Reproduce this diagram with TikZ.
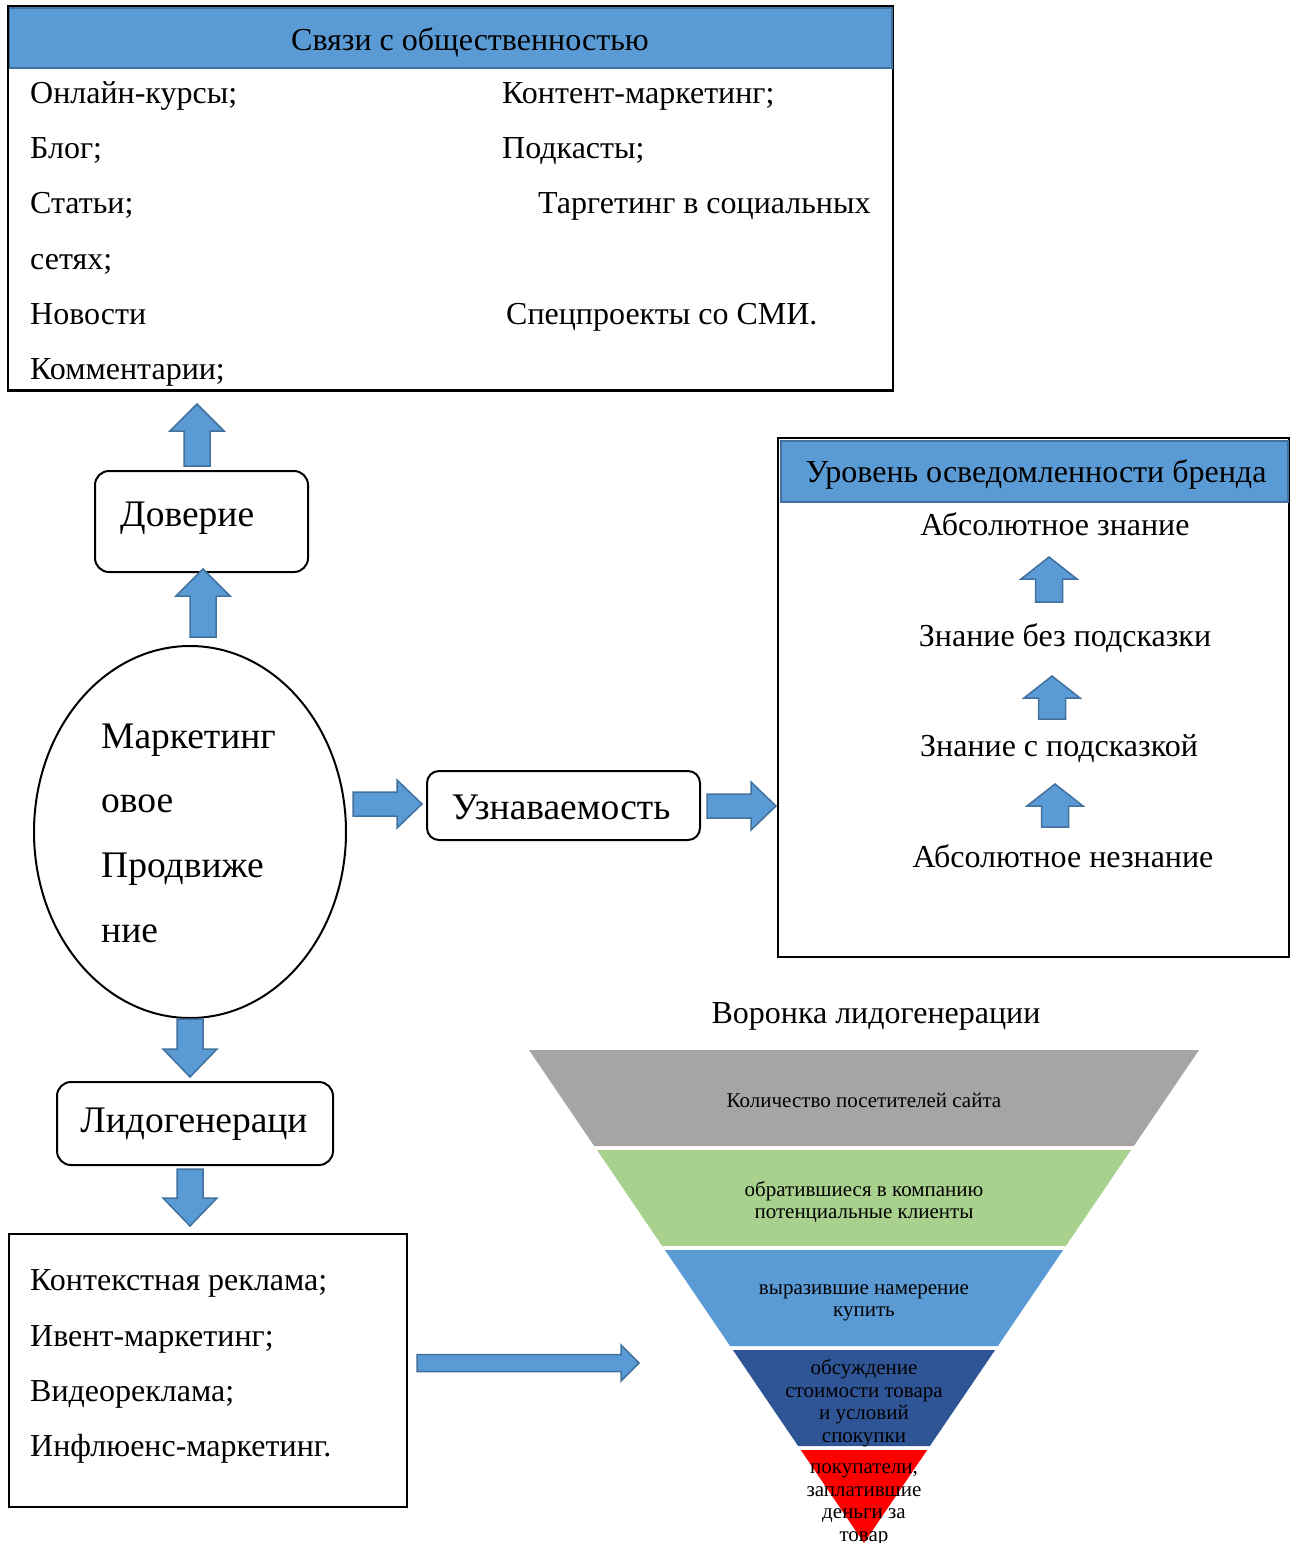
\documentclass[tikz,border=0pt]{standalone}
\usepackage{fontspec}
\setmainfont{Liberation Serif}
\usetikzlibrary{calc,shapes.geometric}
\definecolor{blu}{HTML}{5B9BD5}
\definecolor{blud}{HTML}{41719C}
\definecolor{gry}{HTML}{A5A5A5}
\definecolor{grn}{HTML}{A9D18E}
\definecolor{dblu}{HTML}{2F5597}
\definecolor{rd}{HTML}{FF0000}
\newcommand\fs[1]{\fontsize{#1}{#1}\selectfont}
% block arrow: from, to, shaft half width, head half width, head length (in pt)
\newcommand\barrow[5]{%
  \coordinate (ba) at (#1); \coordinate (bb) at (#2);
  \coordinate (bh) at ($(bb)!#5pt!(ba)$);
  \draw[blockarrow] ($(ba)!#3pt!90:(bb)$) -- ($(bh)!#3pt!-90:(ba)$) -- ($(bh)!#4pt!-90:(ba)$) -- (bb)
     -- ($(bh)!#4pt!90:(ba)$) -- ($(bh)!#3pt!90:(ba)$) -- ($(ba)!#3pt!-90:(bb)$) -- cycle;}
\begin{document}
\begin{tikzpicture}[x=1pt,y=-1pt,
  blockarrow/.style={fill=blu,draw=blud,line width=1.5pt,line join=miter},
  box/.style={draw=black,line width=2pt,rectangle,inner sep=0pt},
  rbox/.style={draw=black,line width=2pt,rectangle,rounded corners=14pt,inner sep=0pt},
  band/.style={fill=blu,draw=blud,line width=1.5pt},
  txt/.style={inner sep=0pt,anchor=base west,font=\fs{32}},
  ctxt/.style={inner sep=0pt,anchor=base,font=\fs{32}},
  big/.style={inner sep=0pt,anchor=base west,font=\fs{37.5}},
  ftxt/.style={inner sep=0pt,align=center,font=\fontsize{21}{22.5}\selectfont}]
\useasboundingbox (0,0) rectangle (1297,1543);

% ---------- top box ----------
\node[box,minimum width=885pt,minimum height=384pt] (pr) at (450.5,198) {};
\draw[band] (9.5,8) rectangle (892,68);
\node[ctxt] (prh) at (470,50) {Связи с общественностью};
\node[txt] (t1) at (30,103) {Онлайн-курсы;};
\node[txt] (t2) at (30,158) {Блог;};
\node[txt] (t3) at (30,213) {Статьи;};
\node[txt] (t4) at (30,269) {сетях;};
\node[txt] (t5) at (30,324) {Новости};
\node[txt] (t6) at (30,379) {Комментарии;};
\node[txt] (t7) at (502,103) {Контент-маркетинг;};
\node[txt] (t8) at (502,158) {Подкасты;};
\node[txt] (t9) at (538,213) {Таргетинг в социальных};
\node[txt] (t10) at (506,324) {Спецпроекты со СМИ.};
\draw[black,line width=2pt] (pr.south west) -- (pr.south east);

% ---------- Доверие ----------
\node[rbox,minimum width=213pt,minimum height=101pt] (dov) at (201.5,521.5) {};
\node[big] (dovt) at (120,526) {Доверие};

% ---------- ellipse ----------
\node[draw=black,line width=2pt,ellipse,minimum width=312pt,minimum height=372pt,inner sep=0pt] (mp) at (190,832) {};
\node[big] (m1) at (101,748) {Маркетинг};
\node[big] (m2) at (101,812) {овое};
\node[big] (m3) at (101,877) {Продвиже};
\node[big] (m4) at (101,942) {ние};

% ---------- Узнаваемость ----------
\node[rbox,rounded corners=12pt,minimum width=273pt,minimum height=69pt] (uzn) at (563.5,805.5) {};
\node[ctxt,font=\fs{37.5}] (uznt) at (561,819) {Узнаваемость};

% ---------- Лидогенераци ----------
\node[rbox,minimum width=276pt,minimum height=83pt] (lid) at (195,1123.5) {};
\node[ctxt,font=\fs{37.5}] (lidt) at (194,1132) {Лидогенераци};

% ---------- brand box ----------
\node[box,minimum width=511pt,minimum height=519pt] (br) at (1033.5,697.5) {};
\draw[band] (781,441) rectangle (1288,502);
\node[ctxt] (brh) at (1036,482) {Уровень осведомленности бренда};
\node[ctxt] (b1) at (1055,535) {Абсолютное знание};
\node[ctxt] (b2) at (1065,646) {Знание без подсказки};
\node[ctxt] (b3) at (1059,756) {Знание с подсказкой};
\node[ctxt] (b4) at (1063,867) {Абсолютное незнание};
\barrow{1049,602}{1049,557}{13.5}{28}{22}
\barrow{1052,719}{1052,676}{13.5}{28}{22}
\barrow{1055,827}{1055,784}{13.5}{28}{22}

% ---------- bottom box ----------
\node[box,minimum width=398pt,minimum height=273pt] (ad) at (208,1370.5) {};
\node[txt] (a1) at (30,1290) {Контекстная реклама;};
\node[txt] (a2) at (30,1346) {Ивент-маркетинг;};
\node[txt] (a3) at (30,1401) {Видеореклама;};
\node[txt] (a4) at (30,1456) {Инфлюенс-маркетинг.};

% ---------- funnel ----------
\node[ctxt] (ft) at (876,1023) {Воронка лидогенерации};
\fill[gry] (529,1050) -- (1199,1050) -- (1133.8,1146) -- (594.2,1146) -- cycle;
\fill[grn] (597.0,1150) -- (1131.0,1150) -- (1065.8,1246) -- (662.2,1246) -- cycle;
\fill[blu] (664.9,1250) -- (1063.1,1250) -- (997.9,1346) -- (730.1,1346) -- cycle;
\fill[dblu] (732.9,1350) -- (995.1,1350) -- (929.9,1446) -- (798.1,1446) -- cycle;
\fill[rd] (800.8,1450) -- (927.2,1450) -- (864,1543) -- cycle;
\node[ftxt] (f1) at (864,1100) {Количество посетителей сайта};
\node[ftxt] (f2) at (864,1202) {обратившиеся в компанию\\потенциальные клиенты};
\node[ftxt] (f3) at (864,1303) {выразившие намерение\\купить};
\node[ftxt] (f4) at (864,1403) {обсуждение\\стоимости товара\\и условий\\спокупки};
\node[ftxt] (f5) at (864,1505) {покупатели,\\заплатившие\\деньги за\\товар};
\coordinate (fin) at (639,1363);

% ---------- block arrows ----------
\barrow{$(mp.north)+(13,-8)$}{$(dov.south)+(1.5,-4)$}{13}{27}{27}
\barrow{$(dov.north)+(-4.5,-4)$}{$(pr.south)+(-253.5,13)$}{13}{27}{27}
\barrow{$(mp.east)+(6,-28)$}{$(uzn.west)+(-4,-1.5)$}{12}{24}{25}
\barrow{$(uzn.east)+(6,0.5)$}{$(br.west)+(-1,108.5)$}{12}{24}{25}
\barrow{$(mp.south)+(0,0)$}{$(lid.north)+(-5,-4)$}{13}{27}{28}
\barrow{$(lid.south)+(-5,3)$}{$(ad.north)+(-18,-7)$}{13}{27}{28}
\barrow{$(ad.east)+(9,-7.5)$}{fin}{8.5}{18}{18}
\end{tikzpicture}
\end{document}
